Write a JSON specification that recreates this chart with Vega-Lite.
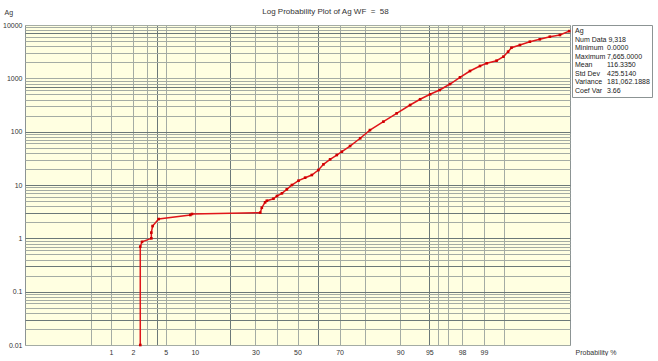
{
  "$schema": "https://vega.github.io/schema/vega-lite/v6.json",
  "padding": {"left": 2, "top": 7, "right": 0, "bottom": 0},
  "background": "white",
  "bounds": "flush",
  "spacing": 2,
  "config": {
    "font": "Liberation Sans",
    "axis": {
      "labelFont": "Liberation Sans", "labelFontSize": 7, "labelColor": "#333333",
      "titleFont": "Liberation Sans", "titleFontSize": 7, "titleFontWeight": "normal", "titleColor": "#333333",
      "domain": false, "ticks": false, "tickSize": 0, "labelOverlap": false, "labelBound": false, "labelFlush": false,
      "gridOpacity": 1, "gridWidth": 1
    }
  },
  "hconcat": [
    {
      "width": 545,
      "height": 320,
      "title": {
        "text": "Log Probability Plot of Ag WF\u00a0 =\u00a0 58",
        "font": "Liberation Sans", "fontSize": 8, "fontWeight": "normal", "color": "#333333",
        "anchor": "middle", "dx": 28, "offset": -11.5, "baseline": "middle"
      },
      "view": {"fill": "#FFFFE1", "stroke": "#8C9494"},
      "data": {
        "values": [
          {"p": 2.49, "v": 0.01}, {"p": 2.49, "v": 0.7}, {"p": 2.62, "v": 0.86}, {"p": 3.41, "v": 1.0},
          {"p": 3.41, "v": 1.28}, {"p": 3.53, "v": 1.7}, {"p": 4.16, "v": 2.3}, {"p": 9.05, "v": 2.74},
          {"p": 9.4, "v": 2.86}, {"p": 32.1, "v": 3.03}, {"p": 32.8, "v": 3.75}, {"p": 34.3, "v": 4.73},
          {"p": 35.1, "v": 5.07}, {"p": 38.2, "v": 5.53}, {"p": 39.9, "v": 6.22}, {"p": 42.3, "v": 6.98},
          {"p": 44.7, "v": 8.3}, {"p": 47.2, "v": 10.0}, {"p": 50.5, "v": 12.05}, {"p": 53.8, "v": 13.7},
          {"p": 57.1, "v": 15.4}, {"p": 60.3, "v": 19.1}, {"p": 62.7, "v": 24.4}, {"p": 65.8, "v": 30.3},
          {"p": 68.8, "v": 36.5}, {"p": 71.0, "v": 42.1}, {"p": 74.4, "v": 53.8}, {"p": 78.3, "v": 75.2},
          {"p": 81.7, "v": 107}, {"p": 85.8, "v": 154}, {"p": 89.2, "v": 221}, {"p": 92.0, "v": 316},
          {"p": 93.7, "v": 405}, {"p": 95.1, "v": 502}, {"p": 96.2, "v": 604}, {"p": 97.15, "v": 783},
          {"p": 97.87, "v": 1045}, {"p": 98.43, "v": 1372}, {"p": 98.86, "v": 1703}, {"p": 99.09, "v": 1914},
          {"p": 99.35, "v": 2142}, {"p": 99.49, "v": 2546}, {"p": 99.57, "v": 3160}, {"p": 99.62, "v": 3750},
          {"p": 99.724, "v": 4217}, {"p": 99.813, "v": 4864}, {"p": 99.875, "v": 5394}, {"p": 99.918, "v": 6035},
          {"p": 99.947, "v": 6494}, {"p": 99.965, "v": 7665}
        ]
      },
      "transform": [{"calculate": "quantileNormal(datum.p / 100)", "as": "z"}],
      "encoding": {
        "x": {
          "field": "z", "type": "quantitative",
          "scale": {"domain": [-3.4, 3.4], "nice": false, "zero": false},
          "axis": {
            "values": [-2.5758, -2.3263, -2.0537, -1.8808, -1.7507, -1.6449, -1.2816, -0.8416, -0.5244, -0.2533, 0, 0.2533, 0.5244, 0.8416, 1.2816, 1.6449, 1.7507, 1.8808, 2.0537, 2.3263, 2.5758],
            "labelExpr": "indexof([1,2,5,10,30,50,70,90,95,98,99], round(cumulativeNormal(datum.value)*1000)/10) >= 0 ? toString(round(cumulativeNormal(datum.value)*100)) : ''",
            "labelPadding": 3, "labelBaseline": "top",
            "grid": true,
            "gridColor": {"condition": {"test": "indexof([-1.7507, -0.8416, 0.2533, 1.6449], datum.value) >= 0", "value": "#6B7878"}, "value": "#A4ACA4"},
            "title": "Probability %", "titleX": 550, "titleY": 7.5, "titleAlign": "left", "titleBaseline": "middle"
          }
        },
        "y": {
          "field": "v", "type": "quantitative",
          "scale": {"type": "log", "domain": [0.01, 10000], "nice": false},
          "axis": {
            "values": [0.01, 0.02, 0.03, 0.04, 0.05, 0.06, 0.07, 0.08, 0.09, 0.1, 0.2, 0.3, 0.4, 0.5, 0.6, 0.7, 0.8, 0.9, 1, 2, 3, 4, 5, 6, 7, 8, 9, 10, 20, 30, 40, 50, 60, 70, 80, 90, 100, 200, 300, 400, 500, 600, 700, 800, 900, 1000, 2000, 3000, 4000, 5000, 6000, 7000, 8000, 9000, 10000],
            "labelExpr": "indexof([0.01,0.1,1,10,100,1000,10000], datum.value) >= 0 ? toString(datum.value) : ''",
            "labelPadding": 3,
            "grid": true,
            "gridColor": {"condition": {"test": "indexof([7000, 700, 100, 10, 3, 1, 0.3, 0.1, 0.03], datum.value) >= 0", "value": "#6B7878"}, "value": "#A4ACA4"},
            "title": "Ag", "titleAngle": 0, "titleX": -21, "titleY": -13, "titleAlign": "left", "titleBaseline": "middle"
          }
        }
      },
      "layer": [
        {"mark": {"type": "line", "color": "#E0161B", "strokeWidth": 1.5}},
        {"mark": {"type": "point", "shape": "square", "filled": true, "size": 7, "color": "#D00000", "opacity": 1}}
      ]
    },
    {
      "width": 80,
      "height": 72,
      "view": {"fill": "white", "stroke": "#8C9494"},
      "data": {
        "values": [
          {"row": 1, "stat": "Ag", "value": ""},
          {"row": 2, "stat": "Num Data", "value": "9,318"},
          {"row": 3, "stat": "Minimum", "value": "0.0000"},
          {"row": 4, "stat": "Maximum", "value": "7,665.0000"},
          {"row": 5, "stat": "Mean", "value": "116.3350"},
          {"row": 6, "stat": "Std Dev", "value": "425.5140"},
          {"row": 7, "stat": "Variance", "value": "181,062.1888"},
          {"row": 8, "stat": "Coef Var", "value": "3.66"}
        ]
      },
      "transform": [
        {"calculate": "datum.stat === 'Num Data' ? datum.stat + ' ' + datum.value : datum.stat", "as": "left"},
        {"calculate": "datum.stat === 'Num Data' ? '' : datum.value", "as": "right"},
        {"fold": ["left", "right"], "as": ["col", "txt"]}
      ],
      "mark": {"type": "text", "align": "left", "baseline": "middle", "font": "Liberation Sans", "fontSize": 7, "color": "#222222"},
      "encoding": {
        "x": {"field": "col", "type": "nominal", "scale": {"type": "point", "domain": ["left", "right"], "range": [3, 35], "padding": 0}, "axis": null},
        "y": {"field": "row", "type": "ordinal", "scale": {"type": "point", "padding": 0.7}, "axis": null},
        "text": {"field": "txt", "type": "nominal"}
      }
    }
  ]
}
